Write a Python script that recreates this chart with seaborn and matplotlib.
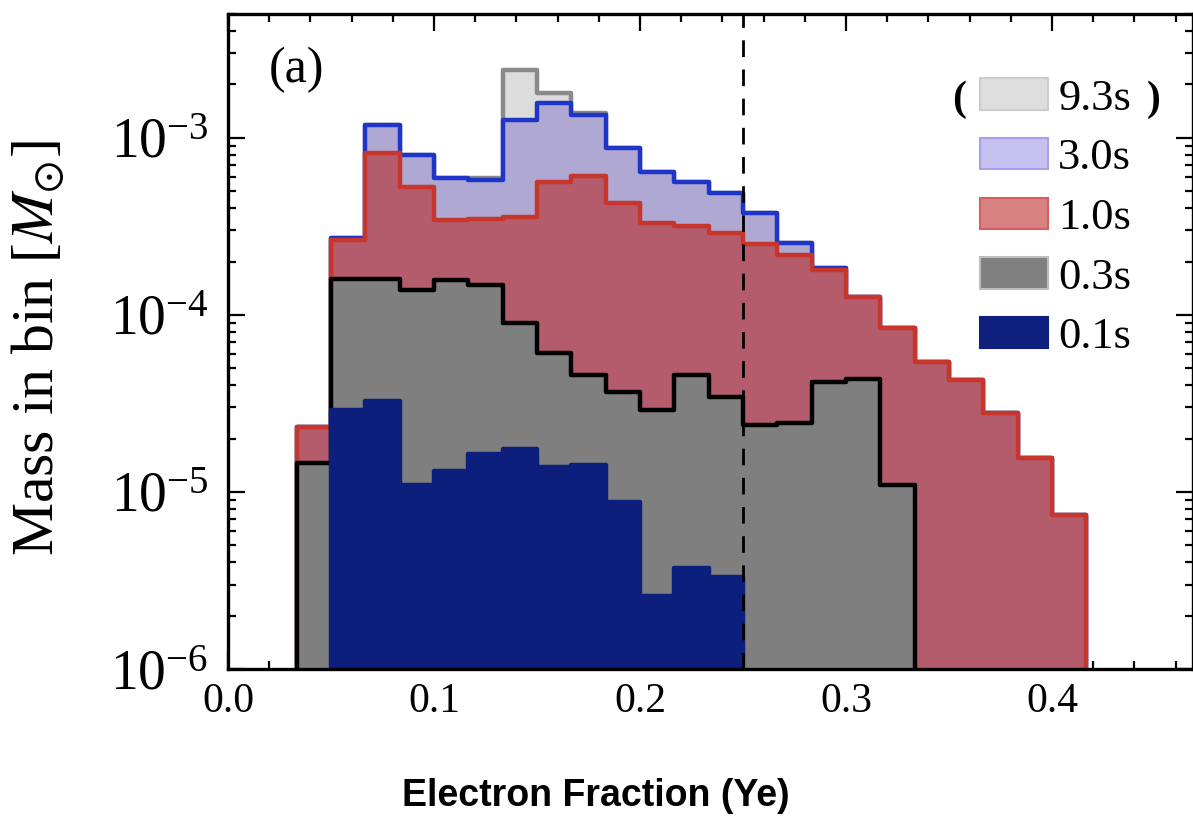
import numpy as np
import pandas as pd
import matplotlib
matplotlib.use("Agg")
import matplotlib.pyplot as plt
import seaborn as sns
from matplotlib.patches import Patch
from matplotlib.ticker import MultipleLocator, LogLocator, NullFormatter

# ---------------- data ----------------
# bin edges in Ye (bin width 1/60)
ye_edges = [2/60, 3/60, 4/60, 5/60, 6/60, 7/60, 8/60, 9/60, 10/60, 11/60, 12/60, 13/60,
            14/60, 15/60, 16/60, 17/60, 18/60, 19/60, 20/60, 21/60, 22/60, 23/60, 24/60, 25/60]

# mass in bin [Msun] per snapshot (0 = empty bin)
mass_9p3s = [2.33e-5, 2.72e-4, 1.18e-3, 8.0e-4, 5.9e-4, 5.9e-4, 2.42e-3, 1.79e-3, 1.38e-3,
             8.8e-4, 6.4e-4, 5.6e-4, 4.9e-4, 3.77e-4, 2.55e-4, 1.85e-4, 1.26e-4, 8.45e-5,
             5.4e-5, 4.3e-5, 2.8e-5, 1.56e-5, 7.4e-6]
mass_3p0s = [2.33e-5, 2.72e-4, 1.18e-3, 8.0e-4, 5.9e-4, 5.8e-4, 1.26e-3, 1.58e-3, 1.35e-3,
             8.8e-4, 6.4e-4, 5.6e-4, 4.9e-4, 3.77e-4, 2.55e-4, 1.85e-4, 1.26e-4, 8.45e-5,
             5.4e-5, 4.3e-5, 2.8e-5, 1.56e-5, 7.4e-6]
mass_1p0s = [2.33e-5, 2.65e-4, 8.2e-4, 5.3e-4, 3.44e-4, 3.5e-4, 3.58e-4, 5.6e-4, 6.1e-4,
             4.3e-4, 3.3e-4, 3.18e-4, 2.9e-4, 2.52e-4, 2.19e-4, 1.8e-4, 1.26e-4, 8.45e-5,
             5.4e-5, 4.3e-5, 2.8e-5, 1.56e-5, 7.4e-6]
mass_0p3s = [1.46e-5, 1.6e-4, 1.6e-4, 1.38e-4, 1.58e-4, 1.48e-4, 9.0e-5, 6.1e-5, 4.58e-5,
             3.67e-5, 2.9e-5, 4.57e-5, 3.44e-5, 2.4e-5, 2.46e-5, 4.19e-5, 4.35e-5, 1.1e-5,
             0, 0, 0, 0, 0]
mass_0p1s = [0, 2.9e-5, 3.27e-5, 1.1e-5, 1.32e-5, 1.64e-5, 1.75e-5, 1.38e-5, 1.42e-5,
             8.8e-6, 2.58e-6, 3.7e-6, 3.3e-6, 0, 0, 0, 0, 0,
             0, 0, 0, 0, 0]

labels = ["9.3s", "3.0s", "1.0s", "0.3s", "0.1s"]
ye_cut = 0.25

# ---------------- styles ----------------
plot_fill = ["#dcdcdc", "#aea8d2", "#b45b6c", "#7f7f7f", "#0d1f7c"]
plot_edge = ["#8a8a8a", "#1f35c9", "#c8352a", "#000000", "#0d1f7c"]
leg_fill = ["#dedede", "#c5c0ee", "#d98282", "#808080", "#0e1f7e"]
leg_edge = ["#cccccc", "#a8a0e8", "#d46060", "#bdbdbd", "#0e1f7e"]

sns.set_theme(style="ticks")
plt.rcParams["font.family"] = ["Liberation Serif", "DejaVu Serif"]
plt.rcParams["mathtext.fontset"] = "stix"
for key in ["text.color", "axes.labelcolor", "xtick.color", "ytick.color",
            "xtick.labelcolor", "ytick.labelcolor"]:
    plt.rcParams[key] = "black"

fig = plt.figure(figsize=(11.93, 8.30), dpi=100)
W, H = 1193, 830
ax_l, ax_r, ax_t, ax_b = 228, 1193, 14, 669
ax = fig.add_axes([ax_l / W, 1 - ax_b / H, (ax_r - ax_l) / W, (ax_b - ax_t) / H])
ax.set_yscale("log")

edges = np.array(ye_edges)
centers = (edges[:-1] + edges[1:]) / 2
series = [mass_9p3s, mass_3p0s, mass_1p0s, mass_0p3s, mass_0p1s]
for i, vals in enumerate(series):
    vals = np.array(vals, dtype=float)
    idx = np.nonzero(vals)[0]
    lo, hi = idx[0], idx[-1]
    df = pd.DataFrame({"ye": centers[lo:hi + 1], "mass": vals[lo:hi + 1]})
    sns.histplot(data=df, x="ye", weights="mass", bins=[float(e) for e in edges[lo:hi + 2]],
                 element="step", fill=True, alpha=1, color=plot_fill[i],
                 edgecolor=plot_edge[i], linewidth=3.2, ax=ax, zorder=2 + i)

ax.axvline(ye_cut, color="black", linestyle=(0, (6, 4.5)), linewidth=2.0, zorder=10)

ax.set_xlim(0, 0.4684)
ax.set_ylim(1e-6, 5e-3)

ax.xaxis.set_major_locator(MultipleLocator(0.1))
ax.xaxis.set_minor_locator(MultipleLocator(0.02))
ax.xaxis.set_major_formatter(matplotlib.ticker.FormatStrFormatter("%.1f"))
ax.yaxis.set_major_locator(LogLocator(base=10, numticks=10))
ax.yaxis.set_minor_locator(LogLocator(base=10, subs=np.arange(2, 10), numticks=20))
ax.yaxis.set_minor_formatter(NullFormatter())

ax.tick_params(which="both", direction="in", top=True, right=True, width=1.6, color="black")
ax.tick_params(which="major", length=12)
ax.tick_params(which="minor", length=6)
ax.tick_params(axis="x", labelsize=30, pad=10, labelcolor="black")
ax.tick_params(axis="y", labelsize=40, pad=14, labelcolor="black")
for s in ax.spines.values():
    s.set_linewidth(2.4)
    s.set_color("black")
    s.set_zorder(20)

ax.set_ylabel(r"Mass in bin [$M_{\odot}$]", fontsize=43, color="black")
ax.yaxis.set_label_coords(-0.168, 0.49)
ax.set_xlabel("Electron Fraction (Ye)", fontsize=27, fontweight="bold", color="black",
              family=["Liberation Sans", "DejaVu Sans"])
ax.xaxis.set_label_coords(0.381, -0.166)

ax.text(0.0715, 0.915, "(a)", transform=ax.transAxes, fontsize=36, color="black",
        ha="center", va="center")

handles = [Patch(facecolor=leg_fill[i], edgecolor=leg_edge[i], linewidth=1.5, label=labels[i])
           for i in range(len(labels))]
leg = ax.legend(handles=handles, loc="upper left",
                bbox_to_anchor=((976 - ax_l) / (ax_r - ax_l), 1 - (74 - ax_t) / (ax_b - ax_t)),
                fontsize=32, frameon=True, facecolor="white", edgecolor="none", framealpha=1,
                handlelength=1.53, handleheight=0.7, handletextpad=0.22, labelspacing=0.44,
                borderpad=0.1, borderaxespad=0, fancybox=False, labelcolor="black")
leg.set_zorder(15)

ax.text((959 - ax_l) / (ax_r - ax_l), 1 - (100 - ax_t) / (ax_b - ax_t), "(", transform=ax.transAxes,
        fontsize=30, fontweight="bold", color="black", ha="center", va="center", zorder=16)
ax.text((1154 - ax_l) / (ax_r - ax_l), 1 - (100 - ax_t) / (ax_b - ax_t), ")", transform=ax.transAxes,
        fontsize=30, fontweight="bold", color="black", ha="center", va="center", zorder=16)

fig.savefig("out.png", dpi=100)
